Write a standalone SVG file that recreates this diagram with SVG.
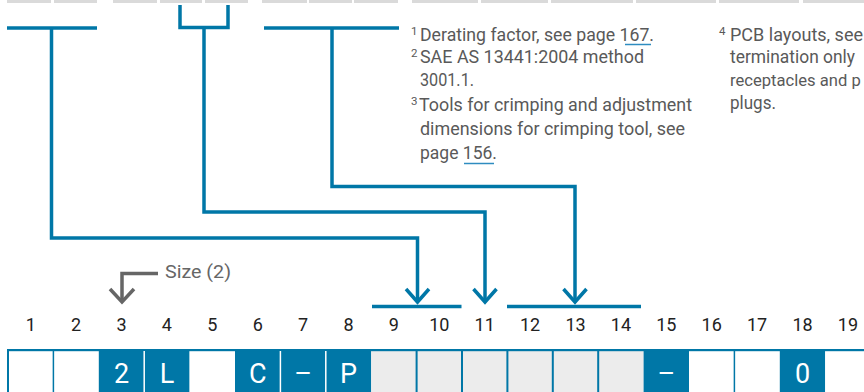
<svg xmlns="http://www.w3.org/2000/svg" width="864" height="392" viewBox="0 0 864 392">
<style>
.bar{fill:#dadada}
.con{fill:none;stroke:#0077a7;stroke-width:3.5}
.gcon{fill:none;stroke:#666;stroke-width:3.5}
.num{font-family:Roboto,"Liberation Sans",sans-serif;font-size:18px;fill:#222;text-anchor:middle}
.note{font-family:Roboto,"Liberation Sans",sans-serif;font-size:18px;fill:#595959}
.sup{font-family:Roboto,"Liberation Sans",sans-serif;font-size:11.5px;fill:#595959}
.cw{fill:#fff}
.cb{fill:#0077a7}
.cg{fill:#ececec}
.ct{font-family:Roboto,"Liberation Sans",sans-serif;font-size:27px;fill:#fff;text-anchor:middle}
.dw{stroke:#fff;stroke-width:1.5}
.db{stroke:#0077a7;stroke-width:2}
.ul{stroke:#2e8cc0;stroke-width:1.5}
</style>
<defs>
<marker id="ah" markerUnits="userSpaceOnUse" markerWidth="30" markerHeight="30" viewBox="-15 -15 30 30" refX="0" refY="0" orient="auto" overflow="visible">
<path d="M-13,-11.5 L0,0 L-13,11.5" fill="none" stroke="#0077a7" stroke-width="3.5"/>
</marker>
<marker id="gah" markerUnits="userSpaceOnUse" markerWidth="30" markerHeight="30" viewBox="-15 -15 30 30" refX="0" refY="0" orient="auto" overflow="visible">
<path d="M-13,-12 L0,0 L-13,12" fill="none" stroke="#666" stroke-width="3.5"/>
</marker>
</defs>
<rect width="864" height="392" fill="#fff"/>
<g id="topbars">
<rect class="bar" x="7" y="0" width="44" height="3"/>
<rect class="bar" x="54" y="0" width="43" height="3"/>
<rect class="bar" x="113" y="0" width="44" height="3"/>
<rect class="bar" x="160" y="0" width="42" height="3"/>
<rect class="bar" x="205" y="0" width="43" height="3"/>
<rect class="bar" x="262" y="0" width="45" height="3"/>
<rect class="bar" x="309" y="0" width="43" height="3"/>
<rect class="bar" x="354" y="0" width="44" height="3"/>
<rect class="bar" x="412" y="0" width="66" height="3"/>
<rect class="bar" x="481" y="0" width="67" height="3"/>
<rect class="bar" x="551" y="0" width="82" height="3"/>
<rect class="bar" x="636" y="0" width="80" height="3"/>
<rect class="bar" x="719" y="0" width="80" height="3"/>
<rect class="bar" x="803" y="0" width="61" height="3"/>
</g>
<g id="connectors">
<path class="con" d="M7,28 H97"/>
<path class="con" d="M51.5,28 V238 H417.5 V302" marker-end="url(#ah)"/>
<path class="con" d="M180,5 V27.5 H228 V5"/>
<path class="con" d="M204,27.5 V212 H485 V302" marker-end="url(#ah)"/>
<path class="con" d="M264,28 H399"/>
<path class="con" d="M332,28 V186.5 H575 V302" marker-end="url(#ah)"/>
<path class="con" d="M372,306.5 H461.5"/>
<path class="con" d="M507,306.5 H641"/>
<path class="gcon" d="M158,273.5 H122 V302" marker-end="url(#gah)"/>
</g>
<g id="size-label">
<text class="note" x="165" y="278" style="fill:#666" textLength="66" lengthAdjust="spacingAndGlyphs">Size (2)</text>
</g>
<g id="notes-left">
<text class="sup" x="411" y="34.5">1</text>
<text class="note" x="420" y="40.5" textLength="234" lengthAdjust="spacingAndGlyphs">Derating factor, see page 167.</text>
<line class="ul" x1="625" y1="44.5" x2="651" y2="44.5"/>
<text class="sup" x="411" y="57">2</text>
<text class="note" x="420" y="63" textLength="224" lengthAdjust="spacingAndGlyphs">SAE AS 13441:2004 method</text>
<text class="note" x="420" y="86" textLength="54" lengthAdjust="spacingAndGlyphs">3001.1.</text>
<text class="sup" x="411" y="105">3</text>
<text class="note" x="419" y="111" textLength="273" lengthAdjust="spacingAndGlyphs">Tools for crimping and adjustment</text>
<text class="note" x="420" y="135" textLength="265" lengthAdjust="spacingAndGlyphs">dimensions for crimping tool, see</text>
<text class="note" x="420" y="159" textLength="77" lengthAdjust="spacingAndGlyphs">page 156.</text>
<line class="ul" x1="464" y1="163.5" x2="494" y2="163.5"/>
</g>
<g id="notes-right">
<text class="sup" x="719" y="34.5">4</text>
<text class="note" x="730" y="40.5" textLength="133" lengthAdjust="spacingAndGlyphs">PCB layouts, see</text>
<text class="note" x="730" y="63" textLength="125" lengthAdjust="spacingAndGlyphs">termination only</text>
<text class="note" x="730" y="86" style="font-size:16.6px">receptacles and p</text>
<text class="note" x="730" y="109" textLength="46" lengthAdjust="spacingAndGlyphs">plugs.</text>
</g>
<g id="numbers">
<text class="num" x="30.7" y="331">1</text>
<text class="num" x="76.1" y="331">2</text>
<text class="num" x="121.5" y="331">3</text>
<text class="num" x="166.9" y="331">4</text>
<text class="num" x="212.3" y="331">5</text>
<text class="num" x="257.7" y="331">6</text>
<text class="num" x="303.1" y="331">7</text>
<text class="num" x="348.5" y="331">8</text>
<text class="num" x="393.9" y="331">9</text>
<text class="num" x="439.3" y="331">10</text>
<text class="num" x="484.7" y="331">11</text>
<text class="num" x="530.1" y="331">12</text>
<text class="num" x="575.5" y="331">13</text>
<text class="num" x="620.9" y="331">14</text>
<text class="num" x="666.3" y="331">15</text>
<text class="num" x="711.7" y="331">16</text>
<text class="num" x="757.1" y="331">17</text>
<text class="num" x="802.5" y="331">18</text>
<text class="num" x="847.9" y="331">19</text>
</g>
<g id="cells">
<rect class="cw" x="8" y="351" width="45.4" height="41"/>
<rect class="cw" x="53.4" y="351" width="45.4" height="41"/>
<rect class="cb" x="98.8" y="351" width="45.4" height="41"/>
<rect class="cb" x="144.2" y="351" width="45.4" height="41"/>
<rect class="cw" x="189.6" y="351" width="45.4" height="41"/>
<rect class="cb" x="235" y="351" width="45.4" height="41"/>
<rect class="cb" x="280.4" y="351" width="45.4" height="41"/>
<rect class="cb" x="325.8" y="351" width="45.4" height="41"/>
<rect class="cg" x="371.2" y="351" width="45.4" height="41"/>
<rect class="cg" x="416.6" y="351" width="45.4" height="41"/>
<rect class="cg" x="462" y="351" width="45.4" height="41"/>
<rect class="cg" x="507.4" y="351" width="45.4" height="41"/>
<rect class="cg" x="552.8" y="351" width="45.4" height="41"/>
<rect class="cg" x="598.2" y="351" width="45.4" height="41"/>
<rect class="cb" x="643.6" y="351" width="45.4" height="41"/>
<rect class="cw" x="689" y="351" width="45.4" height="41"/>
<rect class="cw" x="734.4" y="351" width="45.4" height="41"/>
<rect class="cb" x="779.8" y="351" width="45.4" height="41"/>
<rect class="cw" x="825.2" y="351" width="45.4" height="41"/>
<rect x="7" y="349" width="857" height="2.2" fill="#0077a7"/>
<line class="db" x1="8" y1="350" x2="8" y2="392"/>
<line class="db" x1="53.4" y1="351" x2="53.4" y2="392" style="stroke-width:1.5"/>
<line class="dw" x1="144.2" y1="351" x2="144.2" y2="392"/>
<line class="dw" x1="280.4" y1="351" x2="280.4" y2="392"/>
<line class="dw" x1="325.8" y1="351" x2="325.8" y2="392"/>
<line class="db" x1="416.6" y1="351" x2="416.6" y2="392"/>
<line class="db" x1="462" y1="351" x2="462" y2="392"/>
<line class="db" x1="507.4" y1="351" x2="507.4" y2="392"/>
<line class="db" x1="552.8" y1="351" x2="552.8" y2="392"/>
<line class="db" x1="598.2" y1="351" x2="598.2" y2="392"/>
<line class="db" x1="734.4" y1="351" x2="734.4" y2="392" style="stroke-width:1.5"/>
<text class="ct" x="121.5" y="383">2</text>
<text class="ct" x="166.9" y="383">L</text>
<text class="ct" x="257.7" y="383">C</text>
<text class="ct" x="303.1" y="383">–</text>
<text class="ct" x="348.5" y="383">P</text>
<text class="ct" x="666.3" y="383">–</text>
<text class="ct" x="802.5" y="383">0</text>
</g>
</svg>
